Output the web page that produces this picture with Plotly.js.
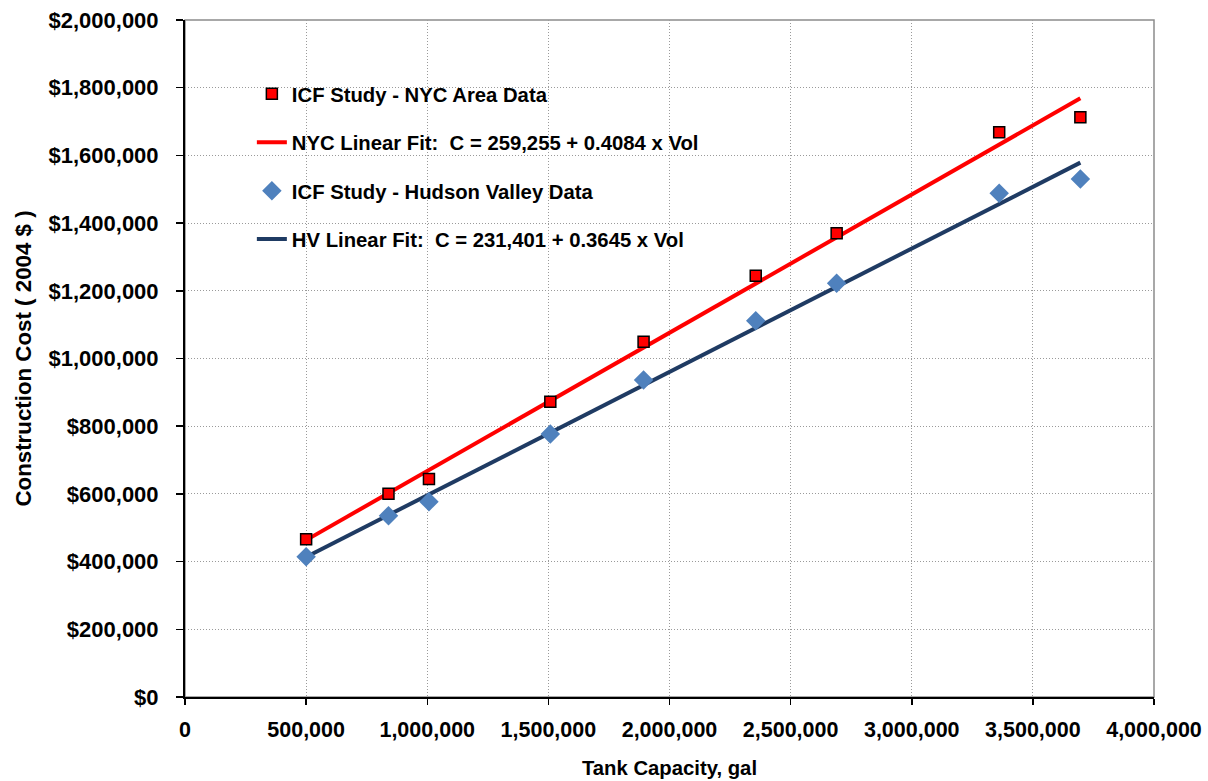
<!DOCTYPE html>
<html>
<head>
<meta charset="utf-8">
<script src="https://cdn.plot.ly/plotly-3.0.1.min.js"></script>
<style>html,body{margin:0;padding:0;background:#fff;}#chart{width:1208px;height:781px;}</style>
</head>
<body>
<div id="chart"></div>
<script>
// Tank capacity (gal)
var capacity = [500000, 840000, 1007000, 1508000, 1893000, 2356000, 2690000, 3361000, 3696000];
// Construction cost (2004 $)
var nycCost = [465900, 600600, 644000, 872400, 1049600, 1244600, 1369900, 1668200, 1712600];
var hvCost  = [414500, 535600, 577000, 777000, 936500, 1111700, 1222000, 1488000, 1530000];
// Linear fit coefficients
var nycFit = {a: 259255, b: 0.4084};
var hvFit  = {a: 231401, b: 0.3645};

var xMin = Math.min.apply(null, capacity), xMax = Math.max.apply(null, capacity);
var fitX = [xMin, xMax];

var font = 'Liberation Sans, Arial, sans-serif';
var traces = [
  {x: fitX, y: fitX.map(function(v){return nycFit.a + nycFit.b*v;}), mode: 'lines', type: 'scatter',
   name: 'NYC Linear Fit:  C = 259,255 + 0.4084 x Vol', line: {color: '#FF0000', width: 4},
   legendrank: 2, legendgroup: 'b'},
  {x: fitX, y: fitX.map(function(v){return hvFit.a + hvFit.b*v;}), mode: 'lines', type: 'scatter',
   name: 'HV Linear Fit:  C = 231,401 + 0.3645 x Vol', line: {color: '#1F3B63', width: 4},
   legendrank: 4, legendgroup: 'd'},
  {x: capacity, y: nycCost, mode: 'markers', type: 'scatter', name: 'ICF Study - NYC Area Data',
   marker: {symbol: 'square', size: 11, color: '#FF0000', line: {color: '#000000', width: 1.5}},
   legendrank: 1, legendgroup: 'a'},
  {x: capacity, y: hvCost, mode: 'markers', type: 'scatter', name: 'ICF Study - Hudson Valley Data',
   marker: {symbol: 'diamond', size: 15, color: '#4F81BD', line: {width: 0}},
   legendrank: 3, legendgroup: 'c'}
];

var layout = {
  width: 1208, height: 781,
  margin: {l: 185, r: 54, t: 20, b: 84},
  paper_bgcolor: '#ffffff', plot_bgcolor: '#ffffff',
  font: {family: font, size: 21, color: '#000000'},
  showlegend: true,
  legend: {x: 0.069, y: 0.92, xanchor: 'left', yanchor: 'top', bgcolor: 'rgba(0,0,0,0)',
           font: {family: font, size: 20.3, color: '#000000', weight: 'bold'},
           tracegroupgap: 19, traceorder: 'grouped'},
  xaxis: {range: [0, 4000000], dtick: 500000, tick0: 0, tickformat: ',d',
          showgrid: true, gridcolor: '#9a9a9a', griddash: '1px,2px', gridwidth: 1,
          showline: true, linecolor: '#000000', linewidth: 2, zeroline: false,
          ticks: 'outside', ticklen: 6, tickcolor: '#000000', tickwidth: 1.5,
          tickfont: {family: font, size: 21.5, weight: 'bold'}, ticklabelstandoff: 6,
          title: {text: 'Tank Capacity, gal', font: {family: font, size: 20.3, weight: 'bold'}, standoff: 20},
          automargin: false},
  yaxis: {range: [0, 2000000], dtick: 200000, tick0: 0, tickformat: '$,.0f',
          showgrid: true, gridcolor: '#9a9a9a', griddash: '1px,2px', gridwidth: 1,
          showline: true, linecolor: '#000000', linewidth: 2, zeroline: false,
          ticks: 'outside', ticklen: 7, tickcolor: '#000000', tickwidth: 1.5,
          tickfont: {family: font, size: 22, weight: 'bold'}, ticklabelstandoff: 13,
          title: {text: 'Construction Cost ( 2004 $ )', font: {family: font, size: 22.3, weight: 'bold'}, standoff: 11},
          automargin: false},
  shapes: [{type: 'rect', xref: 'paper', yref: 'paper', x0: 0, x1: 1, y0: 0, y1: 1,
            line: {color: '#8c8c8c', width: 1.5}, layer: 'below'}]
};

Plotly.newPlot('chart', traces, layout, {displayModeBar: false, staticPlot: true});
</script>
</body>
</html>
